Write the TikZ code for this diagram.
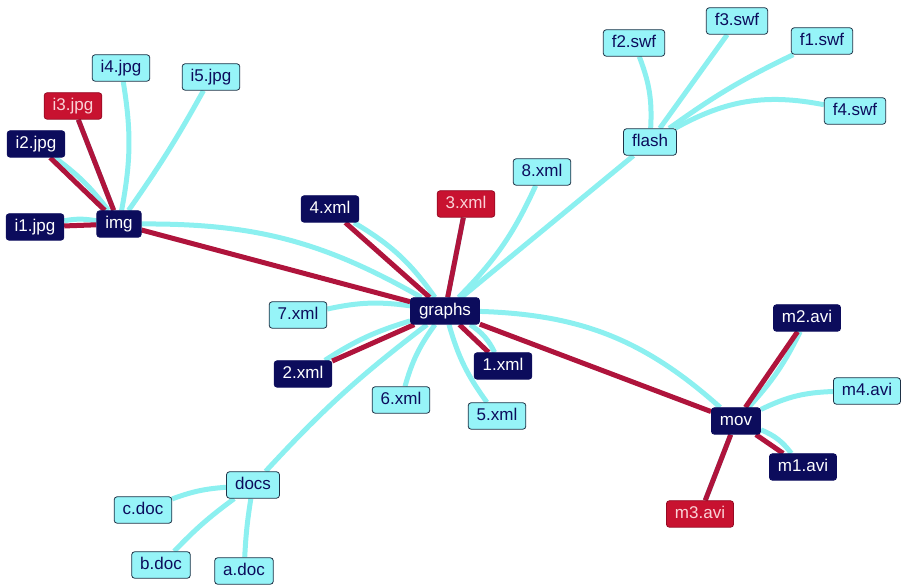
\documentclass[tikz,border=0pt]{standalone}
\usepackage{fontspec}
\setmainfont{Liberation Sans}
\usepackage{xcolor}
\usetikzlibrary{backgrounds}

\definecolor{navy}{RGB}{12,12,92}
\definecolor{crim}{RGB}{200,18,48}
\definecolor{crimdark}{RGB}{150,10,35}
\definecolor{pinktext}{RGB}{250,210,215}
\definecolor{aqua}{RGB}{150,244,248}
\definecolor{aquadark}{RGB}{30,50,70}
\definecolor{aqualine}{RGB}{140,240,240}
\definecolor{wine}{RGB}{175,20,60}

\begin{document}
\begin{tikzpicture}[x=1pt, y=1pt,
		box/.style={rounded corners=3pt, line width=0.8pt, font=\fontsize{17}{20}\selectfont,
			text height=12.5pt, text depth=4pt, inner xsep=8.5pt, inner ysep=5pt},
		darkbox/.style={box, draw=navy, fill=navy, text=white},
		redbox/.style={box, draw=crimdark, fill=crim, text=pinktext},
		cyanbox/.style={box, draw=aquadark, fill=aqua, text=navy},
		tree/.style={line width=5pt, draw=aqualine},
		link/.style={line width=5pt, draw=wine}]
		\useasboundingbox (0,0) rectangle (902,588);
		%
		%root
		\node[darkbox] (graphs) at (445,277) {graphs};
		%
		%img
		\node[darkbox] (img) at (119,364) {img};
		\node[darkbox] (i1) at (35,361) {i1.jpg};
		\node[darkbox] (i2) at (36,444) {i2.jpg};
		\node[redbox] (i3) at (73,482) {i3.jpg};
		\node[cyanbox] (i4) at (121,520) {i4.jpg};
		\node[cyanbox] (i5) at (211,511) {i5.jpg};
		%
		%xml
		\node[darkbox] (x1) at (503,222) {1.xml};
		\node[darkbox] (x2) at (303,214) {2.xml};
		\node[redbox] (x3) at (466,384) {3.xml};
		\node[darkbox] (x4) at (330,379) {4.xml};
		\node[cyanbox] (x5) at (497,172) {5.xml};
		\node[cyanbox] (x6) at (401,188) {6.xml};
		\node[cyanbox] (x7) at (298,273) {7.xml};
		\node[cyanbox] (x8) at (542,416) {8.xml};
		%
		%flash
		\node[cyanbox] (flash) at (650,446) {flash};
		\node[cyanbox] (f1) at (822,547) {f1.swf};
		\node[cyanbox] (f2) at (634,545) {f2.swf};
		\node[cyanbox] (f3) at (737,567) {f3.swf};
		\node[cyanbox] (f4) at (855,477) {f4.swf};
		%
		%mov
		\node[darkbox] (mov) at (736,167) {mov};
		\node[darkbox] (m1) at (803,121) {m1.avi};
		\node[darkbox] (m2) at (807,270) {m2.avi};
		\node[redbox] (m3) at (700,74) {m3.avi};
		\node[cyanbox] (m4) at (867,197) {m4.avi};
		%
		%docs
		\node[cyanbox] (docs) at (253,103) {docs};
		\node[cyanbox] (adoc) at (244,17) {a.doc};
		\node[cyanbox] (bdoc) at (161,23) {b.doc};
		\node[cyanbox] (cdoc) at (143,78) {c.doc};
		%
		\begin{scope}[on background layer]
			%tree edges
			\draw[tree] (graphs) to[bend right=15] (img);
			\draw[tree] (graphs) to[bend left=20] (mov);
			\draw[tree] (graphs) -- (flash);
			\draw[tree] (graphs) to[bend right=5] (docs);
			\draw[tree] (graphs) to[bend left=15] (x1);
			\draw[tree] (graphs) to[bend right=8] (x2);
			\draw[tree] (graphs) -- (x3);
			\draw[tree] (graphs) to[bend right=12] (x4);
			\draw[tree] (graphs) to[bend right=10] (x5);
			\draw[tree] (graphs) to[bend right=10] (x6);
			\draw[tree] (graphs) to[bend right=10] (x7);
			\draw[tree] (graphs) to[bend right=10] (x8);
			%
			\draw[tree] (img) to[bend right=10] (i1);
			\draw[tree] (img) to[bend right=8] (i2);
			\draw[tree] (img) -- (i3);
			\draw[tree] (img) to[bend right=10] (i4);
			\draw[tree] (img) to[bend right=3] (i5);
			%
			\draw[tree] (flash) to[bend left=5] (f1);
			\draw[tree] (flash) to[bend right=12] (f2);
			\draw[tree] (flash) -- (f3);
			\draw[tree] (flash) to[bend left=20] (f4);
			%
			\draw[tree] (mov) to[bend left=15] (m1);
			\draw[tree] (mov) to[bend right=8] (m2);
			\draw[tree] (mov) -- (m3);
			\draw[tree] (mov) to[bend left=12] (m4);
			%
			\draw[tree] (docs) to[bend right=3] (adoc);
			\draw[tree] (docs) to[bend right=5] (bdoc);
			\draw[tree] (docs) to[bend right=8] (cdoc);
			%
			%highlighted links
			\draw[link] (img) -- (i1);
			\draw[link] (img) -- (i2);
			\draw[link] (img) -- (i3);
			\draw[link] (img) -- (graphs);
			\draw[link] (graphs) -- (x4);
			\draw[link] (graphs) -- (x3);
			\draw[link] (graphs) -- (x2);
			\draw[link] (graphs) -- (x1);
			\draw[link] (graphs) -- (mov);
			\draw[link] (mov) -- (m2);
			\draw[link] (mov) -- (m1);
			\draw[link] (mov) -- (m3);
		\end{scope}
	\end{tikzpicture}
\end{document}
